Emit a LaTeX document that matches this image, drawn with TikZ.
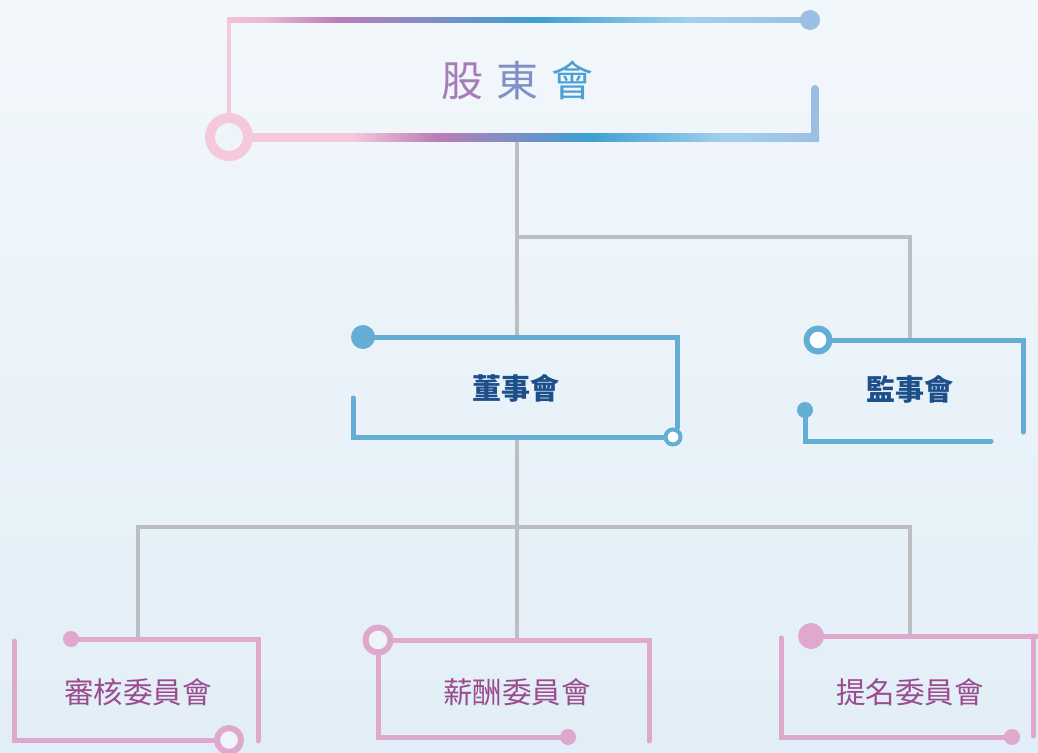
\documentclass[tikz,border=0pt]{standalone}
\usepackage{fontspec}
\newfontfamily\cjk{Noto Sans CJK TC}
\definecolor{bgtop}{HTML}{F2F7FB}
\definecolor{bgbot}{HTML}{E2EEF7}
\definecolor{ringbg}{HTML}{EEF5FA}
\definecolor{conncol}{HTML}{BDBEC1}
\definecolor{bluebox}{HTML}{64AED5}
\definecolor{bluetext}{HTML}{1D4F8A}
\definecolor{pinkbox}{HTML}{DEA9CD}
\definecolor{pinktext}{HTML}{9A4C8E}
\definecolor{topleft}{HTML}{F5C8DC}
\definecolor{topright}{HTML}{9CBDE4}
\definecolor{gA}{HTML}{F2C4D8}
\definecolor{gB}{HTML}{E9B5D2}
\definecolor{gC}{HTML}{BB7DB7}
\definecolor{gD}{HTML}{3E9FD1}
\definecolor{gE}{HTML}{A3D0EE}
\definecolor{gF}{HTML}{9DBFE6}
\definecolor{tA}{HTML}{A67CB8}
\definecolor{tB}{HTML}{8090C6}
\definecolor{tC}{HTML}{4A9FD3}
\pgfdeclarehorizontalshading{gradtop}{100bp}{color(0bp)=(gA); color(25bp)=(gA); color(28.5bp)=(gB); color(34.5bp)=(gC); color(51.5bp)=(gD); color(64.5bp)=(gE); color(75bp)=(gF); color(100bp)=(gF)}
\pgfdeclarehorizontalshading{gradbot}{100bp}{color(0bp)=(gA); color(25bp)=(topleft); color(35.5bp)=(topleft); color(42.5bp)=(gC); color(55.5bp)=(gD); color(67bp)=(gE); color(75bp)=(gF); color(100bp)=(gF)}
\tikzset{
  conn/.style={draw=conncol, line width=4pt},
  bline/.style={draw=bluebox, line width=5pt, line cap=round},
  pline/.style={draw=pinkbox, line width=5pt, line cap=round},
  btext/.style={font=\cjk\bfseries\fontsize{29}{31}\selectfont, text=bluetext, inner sep=0pt},
  ptext/.style={font=\cjk\fontsize{29.5}{31}\selectfont, text=pinktext, inner sep=0pt},
}
\begin{document}
\begin{tikzpicture}[x=1pt,y=-1pt]
\useasboundingbox (0,0) rectangle (1038,752);
\shade[top color=bgtop, bottom color=bgbot] (0,0) rectangle (1038,752);

% named anchor points
\coordinate (gdB) at (517,137);
\coordinate (dsT) at (517,337);
\coordinate (dsB) at (517,437);
\coordinate (jsT) at (910,340);
\coordinate (j1) at (517,237);
\coordinate (j2) at (517,527);
\coordinate (shT) at (138,639);
\coordinate (xcT) at (517,640);
\coordinate (tmT) at (910,636);

% connectors
\draw[conn] (gdB) -- (dsT);
\draw[conn] (j1) -| (jsT);
\draw[conn] (dsB) -- (xcT);
\draw[conn] (shT) |- (j2) -| (tmT);

% top box
\draw[draw=topleft, line width=4pt] (229,20) -- (229,137);
\shade[shading=gradtop] (227,17.5) rectangle (810,22.5);
\fill[topright] (810,20) circle[radius=10pt];
\draw[draw=topright, line width=8pt, line cap=round] (815,89) -- (815,134);
\shade[shading=gradbot] (229,133) rectangle (819,141);
\draw[draw=topleft, line width=10pt, fill=ringbg] (229,137) circle[radius=19pt];
\node[font=\cjk\fontsize{42}{45}\selectfont, inner sep=0pt] (gudong) at (517,80)
  {\textcolor{tA}{股}\hspace{13pt}\textcolor{tB}{東}\hspace{13pt}\textcolor{tC}{會}};

% board of directors
\draw[bline] (363,337) -- (677,337) -- (677,428);
\draw[bline] (353,398) -- (353,437) -- (664,437);
\fill[bluebox] (363,337) circle[radius=12pt];
\draw[draw=bluebox, line width=4pt, fill=white] (673,437) circle[radius=7.5pt];
\node[btext] (dongshi) at (516,388) {董事會};

% supervisors
\draw[bline] (830,340) -- (1023,340) -- (1023,432);
\draw[bline] (805,410) -- (805,441) -- (991,441);
\draw[draw=bluebox, line width=6pt, fill=white] (818,340) circle[radius=11.5pt];
\fill[bluebox] (805,410) circle[radius=8pt];
\node[btext] (jianshi) at (910,389) {監事會};

% audit committee
\draw[pline] (71,639) -- (258,639) -- (258,741);
\draw[pline] (14,641) -- (14,740) -- (216,740);
\fill[pinkbox] (71,639) circle[radius=8pt];
\draw[draw=pinkbox, line width=6pt, fill=ringbg] (229,740) circle[radius=12pt];
\node[ptext] (shenhe) at (138,692) {審核委員會};

% remuneration committee
\draw[pline] (378,640) -- (649,640) -- (649,741);
\draw[pline] (378,652) -- (378,737) -- (568,737);
\draw[draw=pinkbox, line width=6pt, fill=ringbg] (378,640) circle[radius=12.5pt];
\fill[pinkbox] (568,737) circle[radius=8pt];
\node[ptext] (xinchou) at (517,692) {薪酬委員會};

% nomination committee
\draw[draw=pinkbox, line width=5pt] (811,636) -- (1040,636);
\draw[pline] (1033,636) -- (1033,736);
\draw[pline] (781,638) -- (781,737) -- (1012,737);
\fill[pinkbox] (811,636) circle[radius=13pt];
\fill[pinkbox] (1012,737) circle[radius=8pt];
\node[ptext] (timing) at (910,692) {提名委員會};
\end{tikzpicture}
\end{document}
